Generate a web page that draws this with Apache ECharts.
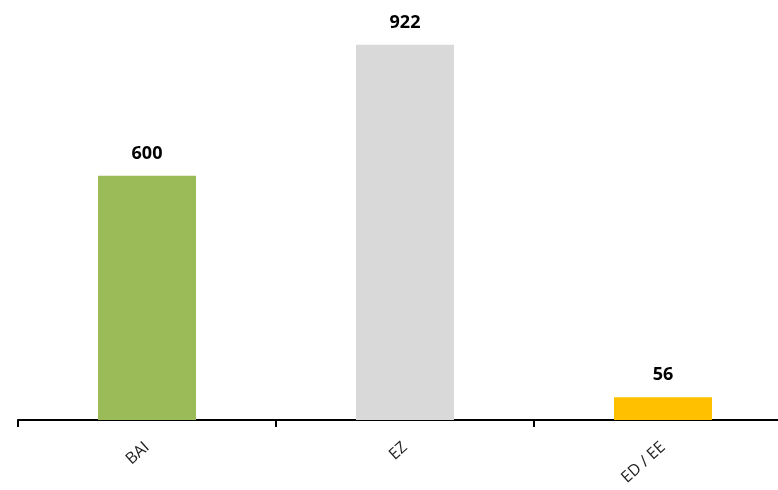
<!DOCTYPE html>
<html><head><meta charset="utf-8">
<script src="https://cdn.jsdelivr.net/npm/echarts@6/dist/echarts.min.js"></script>
<style>html,body{margin:0;padding:0;background:#fff}#c{width:778px;height:490px}</style>
</head><body><div id="c"></div>
<script>
const categories = ['BAI', 'EZ', 'ED / EE'];
const values = [600, 922, 56];
const colors = ['#9BBB59', '#D9D9D9', '#FFC000'];

const chart = echarts.init(document.getElementById('c'), null, {renderer: 'canvas'});
chart.setOption({
  animation: false,
  grid: {left: 18, right: -14, top: 13, bottom: 70, containLabel: false, outerBoundsMode: 'none'},
  xAxis: {
    type: 'category',
    data: categories,
    axisLine: {lineStyle: {color: '#000', width: 2}},
    axisTick: {show: true, length: 7, lineStyle: {color: '#000', width: 2}},
    axisLabel: {rotate: 42, margin: 25, color: '#222', fontSize: 16, fontFamily: 'Open Sans'}
  },
  yAxis: {
    type: 'value', min: 0, max: 1000, show: false,
    splitLine: {show: false}
  },
  series: [{
    type: 'bar',
    barWidth: 98,
    data: values.map((v, i) => ({value: v, itemStyle: {color: colors[i]}})),
    label: {show: true, position: 'top', distance: 13, fontWeight: 'bold', fontSize: 18, color: '#000', fontFamily: 'Open Sans'}
  }]
});
</script></body></html>
